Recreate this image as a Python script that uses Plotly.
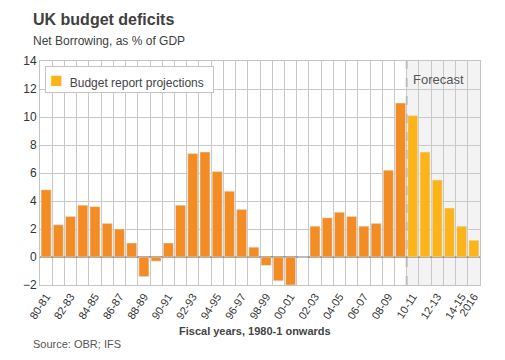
import plotly.graph_objects as go

# ---- data ----
years = ["80-81", "81-82", "82-83", "83-84", "84-85", "85-86", "86-87", "87-88",
         "88-89", "89-90", "90-91", "91-92", "92-93", "93-94", "94-95", "95-96",
         "96-97", "97-98", "98-99", "99-00", "00-01", "01-02", "02-03", "03-04",
         "04-05", "05-06", "06-07", "07-08", "08-09", "09-10",
         "10-11", "11-12", "12-13", "13-14", "14-15", "2016"]
history_values = [4.8, 2.3, 2.9, 3.7, 3.6, 2.4, 2.0, 1.0,
                  -1.4, -0.3, 1.0, 3.7, 7.4, 7.5, 6.1, 4.7,
                  3.4, 0.7, -0.6, -1.7, -2.0, 0.0, 2.2, 2.8,
                  3.2, 2.9, 2.2, 2.4, 6.2, 11.0]
forecast_values = [10.1, 7.5, 5.5, 3.5, 2.2, 1.2]
shown_labels = ["80-81", "82-83", "84-85", "86-87", "88-89", "90-91", "92-93",
                "94-95", "96-97", "98-99", "00-01", "02-03", "04-05", "06-07",
                "08-09", "10-11", "12-13", "14-15", "2016"]

n_hist = len(history_values)
hist_years = years[:n_hist]
fc_years = years[n_hist:]
tick_text = [y if y in shown_labels else "" for y in years]

ORANGE = "#f48c24"
YELLOW = "#fcb41a"
FONT = "Liberation Sans, Arial, sans-serif"

# plot area in pixels
L, R, T, B = 40, 480, 61, 285
PW, PH = R - L, B - T

def px(xp):
    return (xp - L) / PW

def py(yp):
    return (B - yp) / PH

fig = go.Figure()
fig.add_trace(go.Bar(x=hist_years, y=history_values, marker_color=ORANGE,
                     showlegend=False, name="Outturn"))
fig.add_trace(go.Bar(x=fc_years, y=forecast_values, marker_color=YELLOW,
                     name="Budget report projections", showlegend=False))

# forecast shaded region + dashed divider (positions on category scale)
fig.add_shape(type="rect", xref="x", yref="paper", x0=n_hist - 0.5,
              x1=len(years) - 0.5, y0=0, y1=1, fillcolor="#f3f3f3",
              line_width=0, layer="below")
fig.add_shape(type="line", xref="x", yref="paper", x0=n_hist - 0.5,
              x1=n_hist - 0.5, y0=0, y1=1,
              line=dict(color="#bdbdbd", width=2, dash="dash"), layer="above")
fig.add_annotation(text="Forecast", xref="x", yref="paper", x=n_hist - 0.5,
                   y=py(79), xanchor="left", yanchor="middle", xshift=4,
                   showarrow=False, font=dict(family=FONT, size=13, color="#555555"))

# legend box
fig.add_annotation(
    text='&nbsp;<span style="font-size:21px;color:' + YELLOW + '">■</span>&nbsp;&nbsp;Budget report projections',
    xref="paper", yref="paper", x=px(45), y=py(66), xanchor="left", yanchor="top",
    width=165, align="left",
    showarrow=False, bgcolor="white", bordercolor="#c4c4c4", borderwidth=1,
    borderpad=1, font=dict(family=FONT, size=12, color="#444444"))

fig.update_layout(
    width=505, height=360,
    margin=dict(l=L, r=505 - R, t=T, b=360 - B),
    paper_bgcolor="white", plot_bgcolor="rgba(0,0,0,0)",
    barmode="overlay", bargap=0.18,
    font=dict(family=FONT, color="#333333"),
    showlegend=False,
)
fig.update_xaxes(
    type="category", categoryorder="array", categoryarray=years,
    range=[-0.5, len(years) - 0.5], automargin=False,
    tickmode="array", tickvals=years, ticktext=tick_text,
    tickson="boundaries", ticks="", tickangle=-57,
    tickfont=dict(family=FONT, size=11, color="#333333"),
    showgrid=True, gridcolor="#c8c8c8", gridwidth=1,
    showline=True, linecolor="#c4c4c4", mirror=True,
)
fig.update_yaxes(
    range=[-2, 14], dtick=2, tick0=0, ticks="", automargin=False,
    tickfont=dict(family=FONT, size=12, color="#333333"),
    showgrid=True, gridcolor="#c8c8c8", gridwidth=1,
    zeroline=True, zerolinecolor="#999999", zerolinewidth=2,
    showline=True, linecolor="#c4c4c4", mirror=True,
)

fig.add_annotation(text="<b>UK budget deficits</b>", xref="paper", yref="paper",
                   x=px(31), y=py(19), xanchor="left", yanchor="middle",
                   showarrow=False, font=dict(family=FONT, size=16, color="#404040"))
fig.add_annotation(text="Net Borrowing, as % of GDP", xref="paper", yref="paper",
                   x=px(31), y=py(41), xanchor="left", yanchor="middle",
                   showarrow=False, font=dict(family=FONT, size=12, color="#404040"))
fig.add_annotation(text="<b>Fiscal years, 1980-1 onwards</b>", xref="paper", yref="paper",
                   x=px(255), y=py(331), xanchor="center", yanchor="middle",
                   showarrow=False, font=dict(family=FONT, size=11, color="#444444"))
fig.add_annotation(text="Source: OBR; IFS", xref="paper", yref="paper",
                   x=px(31), y=py(344), xanchor="left", yanchor="middle",
                   showarrow=False, font=dict(family=FONT, size=11, color="#555555"))

fig.write_html("out.html", config={"displayModeBar": False},
               post_script="document.body.style.margin='0';document.body.style.padding='0';")
